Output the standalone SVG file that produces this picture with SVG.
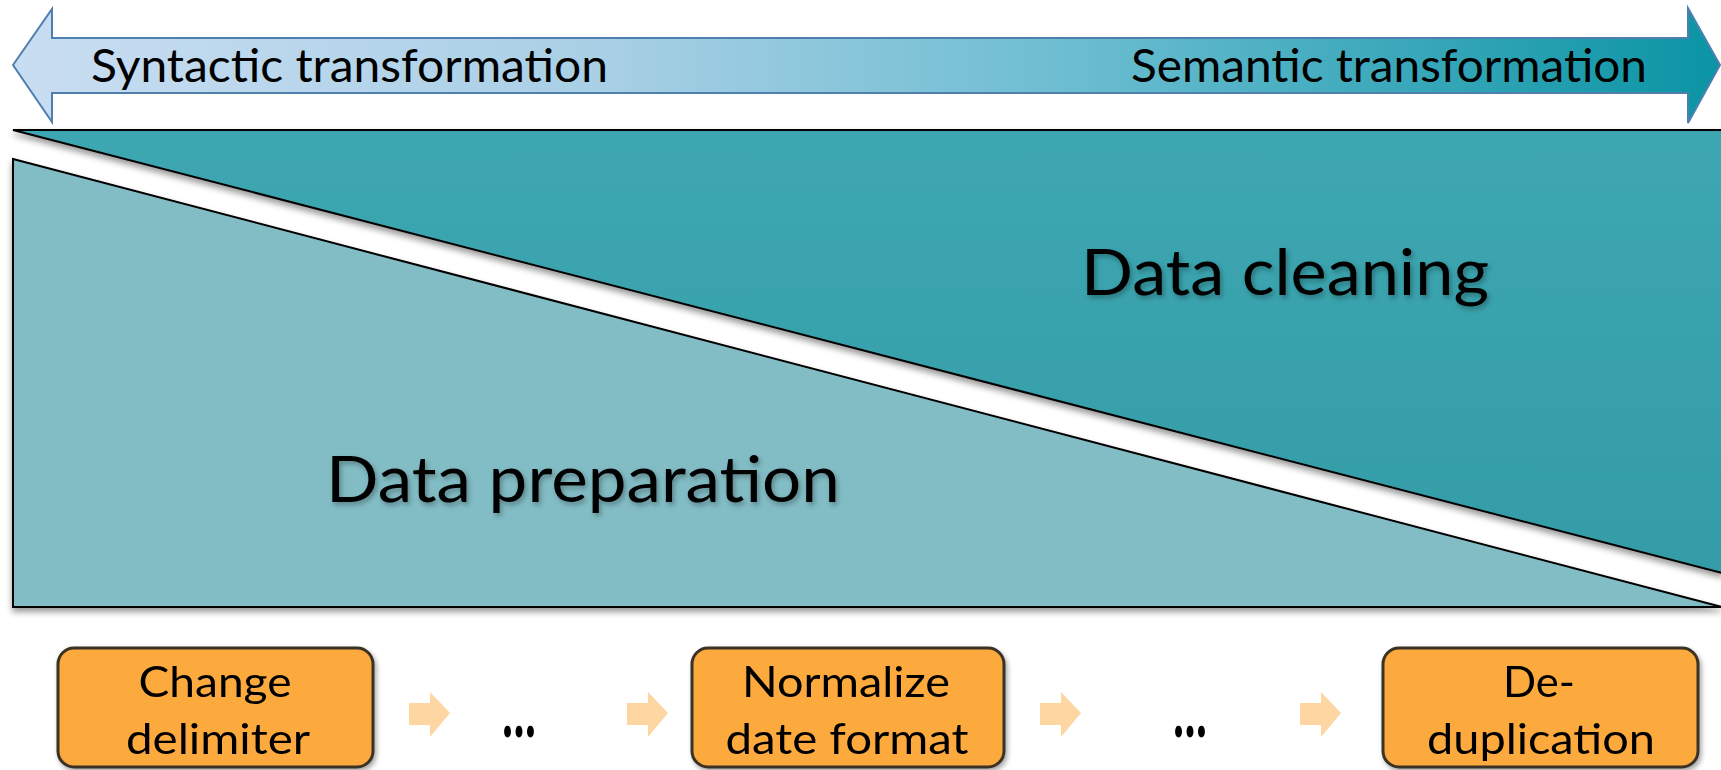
<svg xmlns="http://www.w3.org/2000/svg" width="1721" height="770" viewBox="0 0 1721 770">
  <style>
    .lbl { font-family: Lato, "Open Sans", "Liberation Sans", sans-serif; fill: #000; }
    .scale { font-size: 46px; }
    .region { font-size: 64px; }
    .step { font-size: 42px; text-anchor: middle; }
    .dots { font-size: 74px; font-weight: 900; text-anchor: middle; }
    .box { fill: #fca93e; stroke: #3a3225; stroke-width: 3; }
    .flow { fill: #fed6a2; }
    .panel { stroke: #000; stroke-width: 2; stroke-linejoin: miter; }
  </style>
  <defs>
    <linearGradient id="scaleFill" x1="0" y1="0" x2="1" y2="0">
      <stop offset="0" stop-color="#c9ddf2"/>
      <stop offset="0.35" stop-color="#a8cfe5"/>
      <stop offset="0.62" stop-color="#6cbdd1"/>
      <stop offset="1" stop-color="#0a94a4"/>
    </linearGradient>
    <linearGradient id="darkFill" x1="0" y1="0" x2="0" y2="1">
      <stop offset="0" stop-color="#3da7b1"/>
      <stop offset="1" stop-color="#349ca7"/>
    </linearGradient>
    <filter id="shadow" x="-5%" y="-5%" width="110%" height="120%">
      <feDropShadow dx="0" dy="4" stdDeviation="3" flood-color="#000" flood-opacity="0.4"/>
    </filter>
    <filter id="boxShadow" x="-10%" y="-10%" width="125%" height="130%">
      <feDropShadow dx="2" dy="3" stdDeviation="2.5" flood-color="#000" flood-opacity="0.35"/>
    </filter>
    <filter id="textShadow" x="-5%" y="-10%" width="110%" height="140%">
      <feDropShadow dx="2" dy="3" stdDeviation="2.5" flood-color="#000" flood-opacity="0.3"/>
    </filter>
  </defs>

  <!-- double-headed scale arrow: syntactic to semantic -->
  <g id="scale">
    <path d="M13,65 L52,9 L52,38 L1688,38 L1688,8 L1720,65 L1688,123 L1688,93 L52,93 L52,122 Z"
          fill="url(#scaleFill)" stroke="#4f7fae" stroke-width="2" stroke-linejoin="miter"/>
    <text class="lbl scale" x="91" y="82" textLength="517" lengthAdjust="spacingAndGlyphs">Syntactic transformation</text>
    <text class="lbl scale" x="1131" y="82" textLength="516" lengthAdjust="spacingAndGlyphs">Semantic transformation</text>
  </g>

  <!-- upper wedge: data cleaning -->
  <g id="data-cleaning" filter="url(#shadow)">
    <polygon class="panel" points="13,130 1722,130 1722,573" fill="url(#darkFill)"/>
    <text class="lbl region" x="1081" y="295" textLength="408" lengthAdjust="spacingAndGlyphs" filter="url(#textShadow)">Data cleaning</text>
  </g>

  <!-- lower wedge: data preparation -->
  <g id="data-preparation" filter="url(#shadow)">
    <polygon class="panel" points="13,159 1722,607 13,607" fill="#82bcc4"/>
    <text class="lbl region" x="326" y="502" textLength="514" lengthAdjust="spacingAndGlyphs" filter="url(#textShadow)">Data preparation</text>
  </g>

  <!-- example steps -->
  <g id="change-delimiter" filter="url(#boxShadow)">
    <rect class="box" x="58" y="648" width="315" height="119" rx="16"/>
    <text class="lbl step" x="215" y="697" textLength="153" lengthAdjust="spacingAndGlyphs">Change</text>
    <text class="lbl step" x="218" y="754" textLength="184" lengthAdjust="spacingAndGlyphs">delimiter</text>
  </g>

  <g id="ellipsis-1">
    <text class="lbl dots" x="519" y="737" textLength="33" lengthAdjust="spacingAndGlyphs">…</text>
  </g>

  <g id="normalize-date-format" filter="url(#boxShadow)">
    <rect class="box" x="692" y="648" width="312" height="119" rx="16"/>
    <text class="lbl step" x="846" y="697" textLength="208" lengthAdjust="spacingAndGlyphs">Normalize</text>
    <text class="lbl step" x="847" y="754" textLength="243" lengthAdjust="spacingAndGlyphs">date format</text>
  </g>

  <g id="ellipsis-2">
    <text class="lbl dots" x="1190" y="737" textLength="33" lengthAdjust="spacingAndGlyphs">…</text>
  </g>

  <g id="de-duplication" filter="url(#boxShadow)">
    <rect class="box" x="1383" y="648" width="315" height="119" rx="16"/>
    <text class="lbl step" x="1539" y="697" textLength="72" lengthAdjust="spacingAndGlyphs">De-</text>
    <text class="lbl step" x="1541" y="754" textLength="228" lengthAdjust="spacingAndGlyphs">duplication</text>
  </g>

  <!-- flow arrows between steps -->
  <g id="connectors">
    <path class="flow" d="M409,703 L430,703 L430,692 L450,713 L430,737 L430,725 L409,725 Z"/>
    <path class="flow" d="M627,703 L648,703 L648,692 L668,713 L648,737 L648,725 L627,725 Z"/>
    <path class="flow" d="M1040,703 L1061,703 L1061,692 L1081,713 L1061,737 L1061,725 L1040,725 Z"/>
    <path class="flow" d="M1300,703 L1321,703 L1321,692 L1341,713 L1321,737 L1321,725 L1300,725 Z"/>
  </g>
</svg>
